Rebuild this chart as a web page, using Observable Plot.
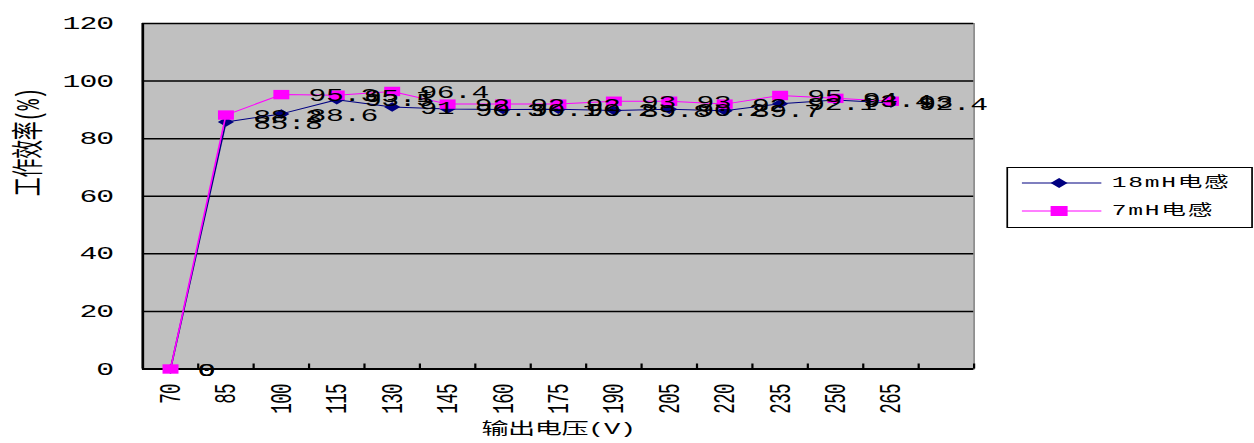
<!DOCTYPE html>
<html><head><meta charset="utf-8">
<script src="https://cdn.jsdelivr.net/npm/d3@7"></script>
<script src="https://cdn.jsdelivr.net/npm/@observablehq/plot@0.6"></script>
<style>
html,body{margin:0;padding:0;background:#fff;overflow:hidden;}
#wrap{position:relative;width:738px;height:443px;transform:scale(1.7,1);transform-origin:0 0;}
g[aria-label="y-axis tick label"] text, g[aria-label="x-axis tick label"] text{letter-spacing:-0.6px;}
g[aria-label="text"] text{letter-spacing:-0.3px;}
#legend{position:absolute;left:592px;top:167px;width:145px;height:61px;box-sizing:border-box;border:1.2px solid #000;background:#fff;
  font-family:'Liberation Mono','Noto Sans CJK SC',monospace;font-size:14.5px;letter-spacing:1px;color:#000;}
#legend .row{position:absolute;left:0;height:20px;width:100%;}
#legend svg{position:absolute;left:8px;top:0;}
#legend span{position:absolute;left:61px;top:0;line-height:20px;white-space:nowrap;}
</style></head><body><div id="wrap"></div>
<script>
// ---- data ----
const volts = [70, 85, 100, 115, 130, 145, 160, 175, 190, 205, 220, 235, 250, 265];
const eff18 = [0, 85.8, 88.6, 93.5, 91.0, 90.3, 90.1, 90.2, 89.8, 90.2, 89.7, 92.1, 93.4, 92.4];
const eff7  = [0, 88.2, 95.3, 95.1, 96.4, 92.0, 92.0, 92.0, 93.0, 93.0, 92.0, 95.0, 94.0, 93.0];
const seriesNames = ["18mH电感", "7mH电感"];
const yTicks = [0, 20, 40, 60, 80, 100, 120];
const xTitle = "输出电压(V)";
const yTitle = "工作效率(%)";
const categoryStep = 15;   // category spacing in volts
const categorySlots = 15;  // category slots on the axis (last one empty)

// ---- layout / style ----
const W = 738, H = 443, mL = 83.5, mR = 165.5, mT = 23, mB = 74.5;
const colors = ["#000080", "#ff00ff"];
const font = "'Liberation Mono','Noto Sans CJK SC',monospace";
const pxPerUnit = (H - mT - mB) / 120;
const tickLen = 5 / pxPerUnit;

const x0 = volts[0] - categoryStep / 2;
const x1 = x0 + categorySlots * categoryStep;
const boundaries = d3.range(1, categorySlots + 1).map(i => x0 + i * categoryStep);

const rows18 = volts.map((v, i) => ({v, e: eff18[i], s: seriesNames[0]}));
const rows7  = volts.map((v, i) => ({v, e: eff7[i],  s: seriesNames[1]}));

const chart = Plot.plot({
  width: W, height: H,
  marginLeft: mL, marginRight: mR, marginTop: mT, marginBottom: mB,
  style: {overflow: "visible", background: "transparent", fontFamily: font},
  x: {domain: [x0, x1], axis: null},
  y: {domain: [0, 120], axis: null},
  marks: [
    Plot.frame({fill: "#c0c0c0", stroke: "#8a8a8a"}),
    Plot.ruleY(yTicks, {stroke: "#000", strokeWidth: 1.5}),
    Plot.ruleX([x0], {stroke: "#000", strokeWidth: 1.6}),
    Plot.ruleX(boundaries, {x: d => d, y1: 0, y2: tickLen, stroke: "#000", strokeWidth: 1.3}),
    Plot.ruleY([0], {stroke: "#000", strokeWidth: 1.8}),
    Plot.line(rows18, {x: "v", y: "e", stroke: colors[0], strokeWidth: 1}),
    Plot.dot(rows18, {x: "v", y: "e", symbol: "diamond2", r: 4.3, fill: colors[0], stroke: "none"}),
    Plot.line(rows7, {x: "v", y: "e", stroke: colors[1], strokeWidth: 1}),
    Plot.dot(rows7, {x: "v", y: "e", symbol: "square", r: 5.3, fill: colors[1], stroke: "none"}),
    Plot.text(rows18, {x: "v", y: "e", text: d => String(d.e), textAnchor: "start", dx: 16, dy: 1, fill: "#000", fontSize: 17.5, fontFamily: font}),
    Plot.text(rows7, {x: "v", y: "e", text: d => String(d.e), textAnchor: "start", dx: 16, dy: 1, fill: "#000", fontSize: 17.5, fontFamily: font}),
    Plot.axisY({ticks: yTicks, tickSize: 0, tickPadding: 17.5, fontSize: 17.5, fontFamily: font, label: null, tickFormat: d => String(d)}),
    Plot.axisX({ticks: volts, tickSize: 0, tickPadding: 15, tickRotate: -90, fontSize: 17.5, fontFamily: font, label: null, tickFormat: d => String(d)}),
    Plot.text([yTitle], {text: d => d, frameAnchor: "left", rotate: -90, dx: -67, fontSize: 19, fontFamily: font, fill: "#000"}),
    Plot.text([xTitle], {text: d => d, frameAnchor: "bottom", dy: 65, fontSize: 16, fontFamily: font, fill: "#000"})
  ]
});
const wrap = document.getElementById("wrap");
wrap.appendChild(chart);

// ---- legend ----
const legend = document.createElement("div");
legend.id = "legend";
const symbolsSvg = [
  c => `<polygon points="22,5 27,10 22,15 17,10" fill="${c}"/>`,
  c => `<rect x="17" y="5" width="10" height="10" fill="${c}"/>`
];
seriesNames.forEach((name, i) => {
  const row = document.createElement("div");
  row.className = "row";
  row.style.top = (5 + i * 28) + "px";
  row.innerHTML = `<svg width="47" height="20"><line x1="0" x2="47" y1="10" y2="10" stroke="${colors[i]}" stroke-width="1"/>${symbolsSvg[i](colors[i])}</svg><span>${name}</span>`;
  legend.appendChild(row);
});
wrap.appendChild(legend);
</script>
</body></html>
